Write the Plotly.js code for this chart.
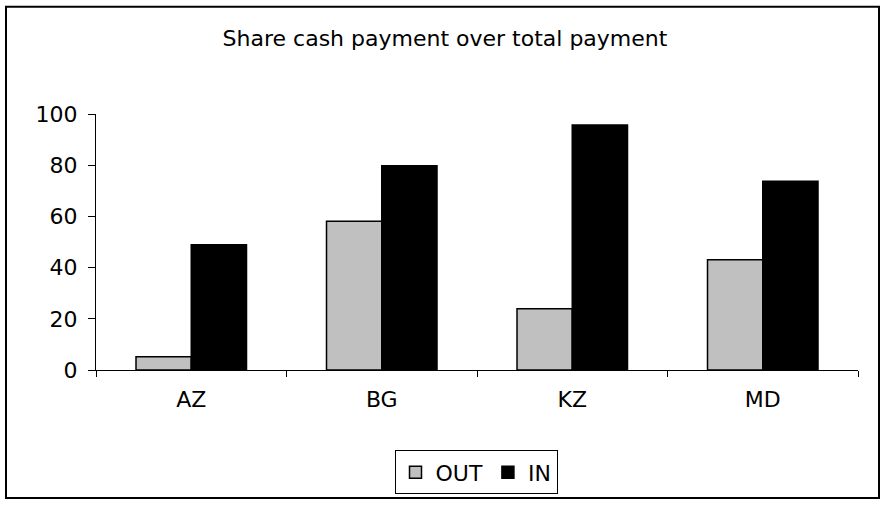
<!DOCTYPE html>
<html>
<head>
<meta charset="utf-8">
<script src="https://cdn.plot.ly/plotly-3.0.1.min.js"></script>
<style>html,body{margin:0;padding:0;background:#fff;}</style>
</head>
<body>
<div id="chart" style="width:881px;height:507px;"></div>
<script>
const categories = ["AZ", "BG", "KZ", "MD"];
const outValues = [5.2, 58.1, 23.9, 43.1];
const inValues = [48.9, 79.8, 95.7, 73.7];
const yTicks = [0, 20, 40, 60, 80, 100];

const W = 881, H = 507;
const M = {l: 96, r: 23, t: 114, b: 135};
const pw = W - M.l - M.r, ph = H - M.t - M.b;
const px = v => (v - M.l) / pw;
const py = v => (H - M.b - v) / ph;

const font = {family: "DejaVu Sans, Arial, sans-serif", size: 22, color: "#000"};

const traces = [
  {type: "bar", name: "OUT", x: categories, y: outValues,
   marker: {color: "#c0c0c0", line: {color: "#000", width: 1.5}}},
  {type: "bar", name: "IN", x: categories, y: inValues,
   marker: {color: "#000", line: {color: "#000", width: 1.5}}}
];

const layout = {
  width: W, height: H,
  margin: M,
  paper_bgcolor: "#fff", plot_bgcolor: "#fff",
  font: font,
  title: {text: "Share cash payment over total payment", font: font,
          x: 445 / W, xanchor: "center", xref: "container", y: 1 - 38 / H, yanchor: "middle"},
  barmode: "group", bargap: 0.42, bargroupgap: 0,
  showlegend: true,
  legend: {orientation: "h", x: 0.5 + (476 - (M.l + pw / 2)) / pw, xanchor: "center",
           y: py(453), yanchor: "top", bordercolor: "#000", borderwidth: 1,
           font: font, itemwidth: 30, traceorder: "normal"},
  xaxis: {showline: true, linecolor: "#000", linewidth: 1, ticks: "outside", ticklen: 6,
          tickcolor: "#000", tickson: "boundaries", showgrid: false, zeroline: false,
          tickfont: font, ticklabelstandoff: 10, fixedrange: true},
  yaxis: {range: [0, 100], tickvals: yTicks, showline: true, linecolor: "#000", linewidth: 1,
          ticks: "outside", ticklen: 7, tickcolor: "#000", showgrid: false, zeroline: false,
          tickfont: font, ticklabelstandoff: 6, fixedrange: true},
  shapes: [
    {type: "rect", xref: "paper", yref: "paper", x0: px(6), x1: px(879), y0: py(6), y1: py(501),
     line: {color: "#000", width: 2}, fillcolor: "rgba(0,0,0,0)", layer: "below"}
  ]
};

Plotly.newPlot("chart", traces, layout, {displayModeBar: false, staticPlot: true});
</script>
</body>
</html>
